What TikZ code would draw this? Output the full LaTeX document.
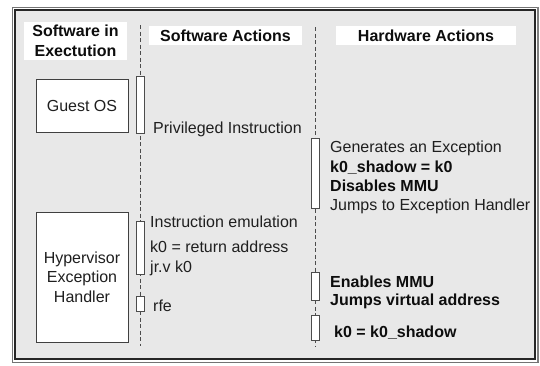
\documentclass[tikz,border=0pt]{standalone}
\usepackage{fontspec}
\setmainfont{Liberation Sans}
\begin{document}
\begin{tikzpicture}[x=1pt,y=-1pt,
  lbl/.style={inner sep=0pt, anchor=west, text height=11.5pt, text depth=0pt,
    font=\fontsize{16}{19.5}\selectfont, text=black!88},
  blbl/.style={lbl, font=\fontsize{16}{19.5}\selectfont\bfseries, text=black!95},
  hdr/.style={fill=white, inner sep=0pt, align=center,
    font=\fontsize{16}{20}\selectfont\bfseries, text=black!95},
  actor/.style={draw=black!75, fill=white, line width=0.9pt, inner sep=0pt,
    align=center, minimum width=92pt, font=\fontsize{16}{19.5}\selectfont, text=black!88},
  actbar/.style={draw=black!70, fill=white, line width=0.8pt, inner sep=0pt,
    minimum width=8pt},
  lifeline/.style={draw=black!70, line width=0.8pt, dash pattern=on 4pt off 2.5pt}]
\useasboundingbox (0,0) rectangle (540,365);

% double frame
\draw[draw=black!55, line width=1pt, fill=white] (12,7) rectangle (538,362);
\draw[draw=black!50, line width=2pt] (538,7) -- (538,362);
\draw[draw=black!85, line width=1.1pt, fill=black!9] (15,10) rectangle (535,359);

% column headers
\node[hdr, minimum width=103pt, minimum height=38pt] (hsw) at (75.5,41) {Software in\\Exectution};
\node[hdr, minimum width=153pt, minimum height=19pt] (hsa) at (225.5,35.5) {Software Actions};
\node[hdr, minimum width=180pt, minimum height=19pt] (hha) at (426,35.5) {Hardware Actions};

% lifelines
\coordinate (s1) at (140,25);
\coordinate (e1) at (140,346);
\coordinate (s2) at (315.5,27);
\coordinate (e2) at (315.5,346);
\draw[lifeline] (s1) -- (e1);
\draw[lifeline] (s2) -- (e2);

% software in execution
\node[actor, minimum height=53pt] (guest) at (82,105.5) {Guest OS};
\node[actor, minimum height=130pt] (hyp) at (82,277) {Hypervisor\\Exception\\Handler};

% activation bars
\node[actbar, minimum height=57pt] (b1) at (140,104.5) {};
\node[actbar, minimum height=70pt] (b2) at (315.5,173) {};
\node[actbar, minimum height=53pt] (b3) at (140,247.5) {};
\node[actbar, minimum height=15pt] (b4) at (140,303.5) {};
\node[actbar, minimum height=28pt] (b5) at (315.5,286) {};
\node[actbar, minimum height=25pt] (b6) at (315.5,327.5) {};

% software actions
\node[lbl] (t1) at (153,128) {Privileged Instruction};
\node[lbl] (t2) at (150,222) {Instruction emulation};
\node[lbl] (t3) at (150,247) {k0 = return address};
\node[lbl] (t4) at (150,267) {jr.v k0};
\node[lbl] (t5) at (153,306) {rfe};

% hardware actions
\node[lbl]  (h1) at (330,147) {Generates an Exception};
\node[blbl] (h2) at (330,167) {k0\_shadow = k0};
\node[blbl] (h3) at (330,186) {Disables MMU};
\node[lbl]  (h4) at (330,205) {Jumps to Exception Handler};
\node[blbl] (h5) at (330,282) {Enables MMU};
\node[blbl] (h6) at (330,300) {Jumps virtual address};
\node[blbl] (h7) at (334,332) {k0 = k0\_shadow};
\end{tikzpicture}
\end{document}
